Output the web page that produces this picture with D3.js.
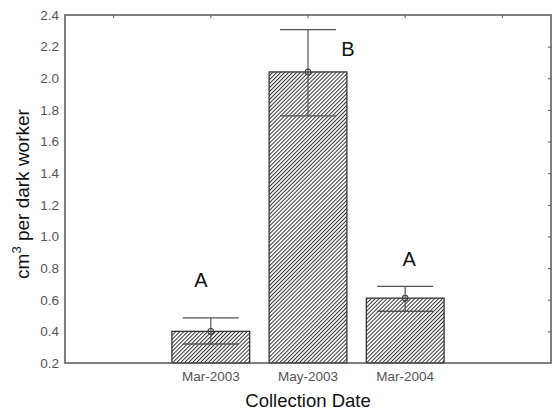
<!DOCTYPE html>
<html><head><meta charset="utf-8">
<script src="https://cdn.jsdelivr.net/npm/d3@7"></script>
<style>body{margin:0;background:#fff}svg{display:block}</style>
</head><body>
<script>
const slots = ["s0", "Mar-2003", "May-2003", "Mar-2004", "s4"];
const categories = ["Mar-2003", "May-2003", "Mar-2004"];
const means = [0.40, 2.04, 0.61];
const upper = [0.485, 2.307, 0.685];
const lower = [0.32, 1.762, 0.527];
const letters = ["A", "B", "A"];
const letterValues = [0.68, 2.14, 0.813];
const yTicks = [0.2,0.4,0.6,0.8,1.0,1.2,1.4,1.6,1.8,2.0,2.2,2.4];

const W = 555, H = 411;
const m = {l:65, r:4, t:15, b:48};
const svg = d3.select("body").append("svg").attr("width", W).attr("height", H);
const x = d3.scaleBand().domain(slots).range([m.l, W - m.r]).paddingInner(0.2).paddingOuter(0.1);
const y = d3.scaleLinear().domain([0.2, 2.4]).range([H - m.b, m.t]);

const defs = svg.append("defs");
const pat = defs.append("pattern").attr("id","hatch").attr("patternUnits","userSpaceOnUse")
  .attr("width",2.8).attr("height",2.8).attr("patternTransform","rotate(45)");
pat.append("rect").attr("width",2.8).attr("height",2.8).attr("fill","#fff");
pat.append("line").attr("x1",0.5).attr("y1",0).attr("x2",0.5).attr("y2",2.8).attr("stroke","#333").attr("stroke-width",1);

const g = svg.append("g");
const step = x.step();
const bw = step * 0.8;
const cx = d => x(d) + x.bandwidth()/2;
const font = "Liberation Sans, Arial, sans-serif";

// bars
g.selectAll("rect.bar").data(categories).join("rect").attr("class","bar")
  .attr("x", d => cx(d) - bw/2).attr("width", bw)
  .attr("y", (d,i) => y(means[i])).attr("height", (d,i) => y(0.2) - y(means[i]))
  .attr("fill","url(#hatch)").attr("stroke","#333").attr("stroke-width",1.3);

// error bars
const capW = bw * 0.72;
categories.forEach((d,i) => {
  const c = cx(d);
  g.append("line").attr("x1",c).attr("x2",c).attr("y1",y(upper[i])).attr("y2",y(lower[i]))
    .attr("stroke","#555").attr("stroke-width",1.2);
  [upper[i], lower[i]].forEach(v => g.append("line").attr("x1",c-capW/2).attr("x2",c+capW/2)
    .attr("y1",y(v)).attr("y2",y(v)).attr("stroke","#555").attr("stroke-width",1.3));
  g.append("circle").attr("cx",c).attr("cy",y(means[i])).attr("r",2.8)
    .attr("fill","none").attr("stroke","#444").attr("stroke-width",1.1);
});

// letters
const letterDx = [-10, 40, 4];
categories.forEach((d,i) => {
  g.append("text").attr("x", cx(d) + letterDx[i]).attr("y", y(letterValues[i]))
    .attr("text-anchor","middle").attr("font-family",font)
    .attr("font-size",20).attr("fill","#111").text(letters[i]);
});

// frame
g.append("rect").attr("x",m.l).attr("y",m.t).attr("width",W-m.r-m.l).attr("height",H-m.b-m.t)
  .attr("fill","none").attr("stroke","#555").attr("stroke-width",1.5);

// y axis labels
const yAx = svg.append("g").attr("transform",`translate(${m.l},0)`)
  .call(d3.axisLeft(y).tickValues(yTicks).tickFormat(d3.format(".1f")).tickSize(0).tickPadding(6));
yAx.select(".domain").remove();
yAx.selectAll("text").attr("font-family",font).attr("font-size",13.5).attr("fill","#555");

// right ticks inward
const rAx = svg.append("g").attr("transform",`translate(${W-m.r},0)`)
  .call(d3.axisRight(y).tickValues(yTicks.slice(1,-1)).tickSize(-3).tickFormat(""));
rAx.select(".domain").remove();
rAx.selectAll("line").attr("stroke","#555");

// top ticks inward
const tAx = svg.append("g").attr("transform",`translate(0,${m.t})`)
  .call(d3.axisTop(x).tickSize(-3).tickFormat(""));
tAx.select(".domain").remove();
tAx.selectAll("line").attr("stroke","#555");

// bottom labels
const bAx = svg.append("g").attr("transform",`translate(0,${H-m.b})`)
  .call(d3.axisBottom(x).tickValues(categories).tickSize(0).tickPadding(8));
bAx.select(".domain").remove();
bAx.selectAll("text").attr("font-family",font).attr("font-size",13.5).attr("fill","#555");

// titles
svg.append("text").attr("x",(m.l + W - m.r)/2).attr("y",407).attr("text-anchor","middle")
  .attr("font-family",font).attr("font-size",18.5).attr("fill","#111").text("Collection Date");
const yt = svg.append("text").attr("transform",`translate(29,194) rotate(-90)`)
  .attr("text-anchor","middle").attr("font-family",font).attr("font-size",19).attr("fill","#111");
yt.append("tspan").text("cm");
yt.append("tspan").attr("font-size",13).attr("dy",-8).text("3");
yt.append("tspan").attr("dy",8).text(" per dark worker");
</script>
</body></html>
